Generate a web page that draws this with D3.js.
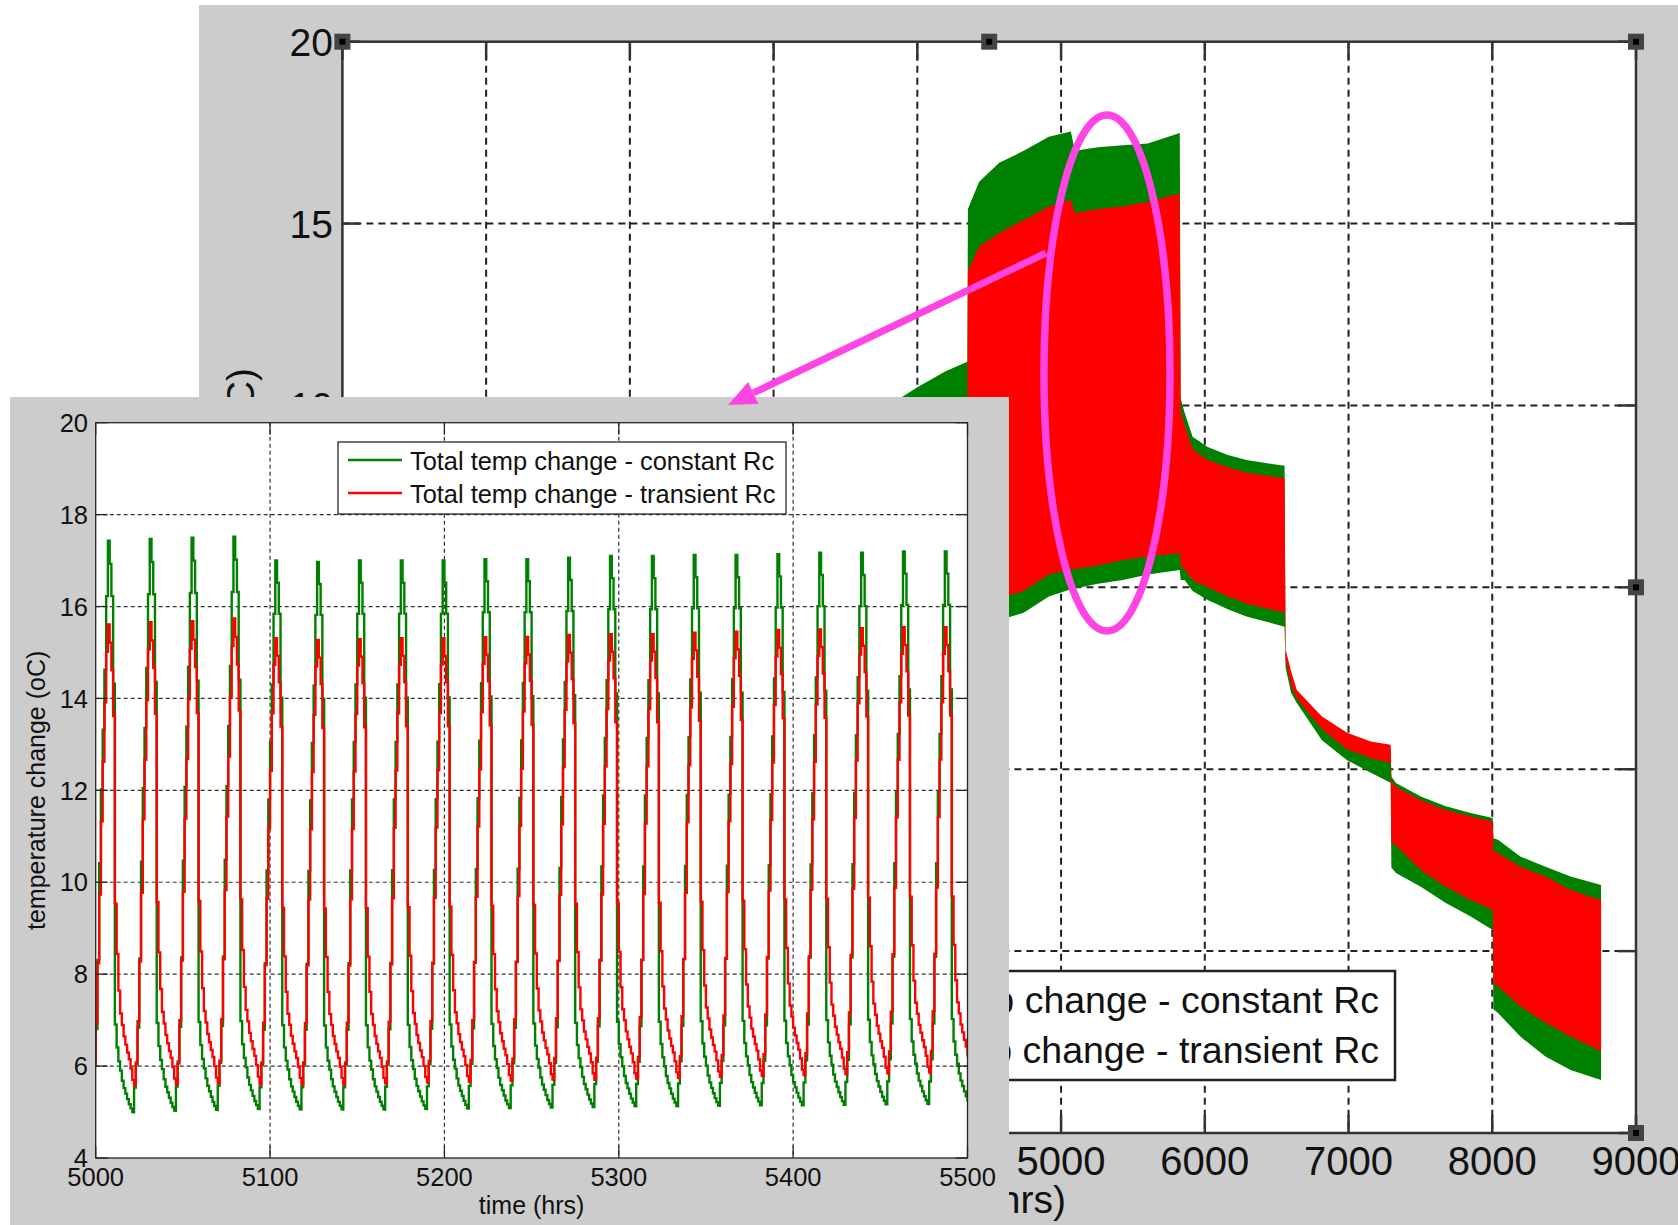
<!DOCTYPE html>
<html lang="en">
  <head>
    <meta charset="utf-8">
    <script src="https://d3js.org/d3.v7.min.js"></script>
    <title>Total temp change - constant vs transient Rc</title>
    <style>
      body { margin: 0; background: #fff; }
      svg { display: block; font-family: "Liberation Sans", Arial, Helvetica, sans-serif; }
    </style>
  </head>
  <body>
    <script>

      // ---- background chart (whole year), band envelopes
      var bigHours = [3800, 4000, 4200, 4348,
                      4352, 4430, 4570, 4740, 4915, 5068, 5096, 5256, 5430, 5603, 5826,
                      5832, 5860, 5915, 6020, 6160, 6290, 6555,
                      6562, 6600, 6640, 6815, 6990, 7155, 7293,
                      7298, 7330, 7503, 7677, 7850, 8003,
                      8008, 8040, 8195, 8370, 8545, 8757];
      var greenHi = [10.0, 10.5, 10.95, 11.2,
                     15.4, 16.15, 16.67, 17.0, 17.39, 17.53, 17.0, 17.1, 17.15, 17.2, 17.49,
                     10.2, 9.8, 9.14, 8.86, 8.64, 8.5, 8.34,
                     3.2, 2.6, 2.1, 1.38, 0.92, 0.68, 0.6,
                     -0.2, -0.38, -0.75, -1.02, -1.2, -1.34,
                     -1.9, -1.94, -2.4, -2.68, -2.95, -3.18];
      var greenLo = [3.5, 3.6, 3.7, 3.8,
                     3.8, 3.9, 4.1, 4.3, 4.75, 4.95, 4.97, 5.1, 5.2, 5.35, 5.48,
                     5.2, 5.2, 4.9, 4.65, 4.4, 4.2, 3.92,
                     2.8, 2.1, 1.82, 0.8, 0.25, -0.1, -0.37,
                     -2.7, -2.85, -3.23, -3.68, -4.05, -4.42,
                     -6.6, -6.7, -7.35, -7.9, -8.27, -8.54];
      var redHi   = [9.0, 9.4, 9.8, 10.0,
                     13.7, 14.37, 14.74, 15.1, 15.47, 15.65, 15.29, 15.4, 15.47, 15.6, 15.83,
                     9.85, 9.45, 8.8, 8.5, 8.3, 8.15, 8.0,
                     3.3, 2.7, 2.18, 1.45, 1.0, 0.76, 0.67,
                     -0.3, -0.48, -0.85, -1.12, -1.3, -1.44,
                     -2.25, -2.3, -2.68, -2.95, -3.32, -3.6];
      var redLo   = [4.0, 4.1, 4.2, 4.3,
                     4.3, 4.45, 4.7, 4.9, 5.35, 5.5, 5.5, 5.6, 5.75, 5.85, 5.94,
                     5.6, 5.5, 5.2, 5.0, 4.75, 4.55, 4.3,
                     3.0, 2.3, 1.95, 1.1, 0.55, 0.3, 0.17,
                     -2.0, -2.1, -2.77, -3.23, -3.6, -3.87,
                     -5.9, -5.97, -6.52, -6.97, -7.35, -7.76];
      var bigXTicks = [0, 1000, 2000, 3000, 4000, 5000, 6000, 7000, 8000, 9000];
      var bigYTicks = [-10, -5, 0, 5, 10, 15, 20];
      // only these tick labels are not covered by the inset
      var bigXLabels = [5000, 6000, 7000, 8000, 9000];
      var bigYLabels = [10, 15, 20];

      // ---- inset (5000-5500 hrs): daily cycles
      var insetPeakHours = [5007, 5031, 5055, 5079, 5103, 5127, 5151, 5175, 5199, 5223, 5247,
                            5271, 5295, 5319, 5343, 5367, 5391, 5415, 5439, 5463, 5487];
      var greenPeaks   = [17.43, 17.47, 17.5, 17.52, 17.0, 16.97, 17.0, 17.0, 17.0, 17.03, 17.03,
                          17.06, 17.1, 17.1, 17.12, 17.12, 17.14, 17.17, 17.17, 17.2, 17.2];
      var greenTroughs = [4.97, 5.0, 5.02, 5.04, 5.03, 5.03, 5.03, 5.04, 5.05, 5.06, 5.07,
                          5.08, 5.1, 5.1, 5.11, 5.12, 5.12, 5.13, 5.14, 5.15, 5.15];
      var redPeaks     = [15.61, 15.66, 15.68, 15.74, 15.31, 15.27, 15.29, 15.31, 15.31, 15.33, 15.34,
                          15.38, 15.4, 15.4, 15.43, 15.45, 15.49, 15.5, 15.53, 15.55, 15.55];
      var redTroughs   = [5.55, 5.58, 5.6, 5.62, 5.6, 5.6, 5.6, 5.62, 5.64, 5.66, 5.68,
                          5.7, 5.7, 5.72, 5.74, 5.76, 5.78, 5.8, 5.82, 5.84, 5.85];
      // one day, hours relative to the peak (first day, read hour by hour)
      var dayOffsets   = [-9, -8, -7, -6, -5, -4, -3, -2, -1, 0, 1, 2, 3,
                          4, 5, 6, 7, 8, 9, 10, 11, 12, 13, 14, 15];
      var greenDay     = [5.5, 6.0, 6.8, 8.3, 10.4, 12.0, 13.3, 14.6, 16.2, 17.4, 16.9, 16.2, 14.3,
                          6.9, 6.4, 6.1, 5.9, 5.68, 5.52, 5.4, 5.28, 5.17, 5.08, 5.0, 4.97];
      var redDay       = [5.5, 6.0, 6.9, 8.2, 9.7, 11.3, 12.6, 13.9, 15.0, 15.6, 15.2, 14.6, 13.6,
                          9.5, 8.4, 7.6, 7.1, 6.85, 6.6, 6.42, 6.25, 6.1, 5.9, 5.65, 5.5];
      var insetXTicks = [5000, 5100, 5200, 5300, 5400, 5500];
      var insetYTicks = [4, 6, 8, 10, 12, 14, 16, 18, 20];

      var legendLabels = ["Total temp change - constant Rc", "Total temp change - transient Rc"];
      var seriesColors = ["#008000", "#ff0000"];
      var axisLabelX = "time (hrs)";
      var axisLabelY = "temperature change (oC)";

      var svg = d3.select("body").append("svg")
        .attr("width", 1678)
        .attr("height", 1225);

      svg.append("rect").attr("width", 1678).attr("height", 1225).attr("fill", "#fff");

      // =================== background chart ===================
      var big = { left: 342.4, right: 1636, top: 41.7, bottom: 1133 };
      var xBig = d3.scaleLinear().domain([0, 9000]).range([big.left, big.right]);
      var yBig = d3.scaleLinear().domain([-10, 20]).range([big.bottom, big.top]);

      svg.append("rect").attr("x", 199).attr("y", 5).attr("width", 1479).attr("height", 1220)
        .attr("fill", "#cccccc");
      svg.append("rect").attr("x", big.left).attr("y", big.top)
        .attr("width", big.right - big.left).attr("height", big.bottom - big.top)
        .attr("fill", "#fff");

      svg.append("clipPath").attr("id", "bigclip").append("rect")
        .attr("x", big.left).attr("y", big.top)
        .attr("width", big.right - big.left).attr("height", big.bottom - big.top);

      var bigGrid = svg.append("g").attr("stroke", "#222").attr("stroke-width", 2)
        .attr("stroke-dasharray", "7,5");
      bigGrid.selectAll(".gx").data(bigXTicks.slice(1, -1)).enter().append("line")
        .attr("x1", function (d) { return xBig(d); }).attr("x2", function (d) { return xBig(d); })
        .attr("y1", big.top).attr("y2", big.bottom);
      bigGrid.selectAll(".gy").data(bigYTicks.slice(1, -1)).enter().append("line")
        .attr("y1", function (d) { return yBig(d); }).attr("y2", function (d) { return yBig(d); })
        .attr("x1", big.left).attr("x2", big.right);

      var bigRows = bigHours.map(function (h, i) {
        return { h: h, gHi: greenHi[i], gLo: greenLo[i], rHi: redHi[i], rLo: redLo[i] };
      });
      var bands = svg.append("g").attr("clip-path", "url(#bigclip)");
      bands.append("path").datum(bigRows).attr("fill", seriesColors[0])
        .attr("d", d3.area()
          .x(function (d) { return xBig(d.h); })
          .y0(function (d) { return yBig(d.gLo); })
          .y1(function (d) { return yBig(d.gHi); }));
      bands.append("path").datum(bigRows).attr("fill", seriesColors[1])
        .attr("d", d3.area()
          .x(function (d) { return xBig(d.h); })
          .y0(function (d) { return yBig(d.rLo); })
          .y1(function (d) { return yBig(d.rHi); }));

      // axes box and inner ticks
      var bigAxes = svg.append("g").attr("stroke", "#333").attr("stroke-width", 2.5).attr("fill", "none");
      bigAxes.append("rect").attr("x", big.left).attr("y", big.top)
        .attr("width", big.right - big.left).attr("height", big.bottom - big.top);
      bigXTicks.forEach(function (d) {
        bigAxes.append("line").attr("x1", xBig(d)).attr("x2", xBig(d)).attr("y1", big.bottom).attr("y2", big.bottom - 18);
        bigAxes.append("line").attr("x1", xBig(d)).attr("x2", xBig(d)).attr("y1", big.top).attr("y2", big.top + 18);
      });
      bigYTicks.forEach(function (d) {
        bigAxes.append("line").attr("y1", yBig(d)).attr("y2", yBig(d)).attr("x1", big.left).attr("x2", big.left + 18);
        bigAxes.append("line").attr("y1", yBig(d)).attr("y2", yBig(d)).attr("x1", big.right).attr("x2", big.right - 18);
      });

      svg.append("g").selectAll("text").data(bigXLabels).enter().append("text")
        .attr("x", function (d) { return xBig(d); }).attr("y", 1175)
        .attr("text-anchor", "middle").attr("font-size", 40).attr("fill", "#111")
        .text(function (d) { return d; });
      svg.append("g").selectAll("text").data(bigYLabels).enter().append("text")
        .attr("x", 333).attr("y", function (d) { return yBig(d); }).attr("dy", "0.36em")
        .attr("text-anchor", "end").attr("font-size", 39).attr("fill", "#111")
        .text(function (d) { return d; });
      svg.append("text").attr("x", 1066).attr("y", 1213).attr("text-anchor", "end")
        .attr("font-size", 39).attr("fill", "#111").text(axisLabelX);
      svg.append("text").attr("transform", "translate(254,368) rotate(-90)")
        .attr("text-anchor", "end").attr("font-size", 39).attr("fill", "#111").text(axisLabelY);

      // legend of the background chart (left part sits under the inset)
      var bigLeg = svg.append("g");
      bigLeg.append("rect").attr("x", 760).attr("y", 971).attr("width", 635).attr("height", 109)
        .attr("fill", "#fff").attr("stroke", "#222").attr("stroke-width", 2.5);
      legendLabels.forEach(function (lab, i) {
        var yy = 1000 + i * 50;
        bigLeg.append("line").attr("x1", 775).attr("x2", 835).attr("y1", yy).attr("y2", yy)
          .attr("stroke", seriesColors[i]).attr("stroke-width", 3);
        bigLeg.append("text").attr("x", 1379).attr("y", yy + 13).attr("text-anchor", "end")
          .attr("font-size", 37.5).attr("fill", "#111").text(lab);
      });

      // selection handles on the axes
      var midX = (big.left + big.right) / 2, midY = (big.top + big.bottom) / 2;
      var handles = [[big.left, big.top], [midX, big.top], [big.right, big.top], [big.right, midY],
                     [big.right, big.bottom], [midX, big.bottom], [big.left, big.bottom], [big.left, midY]];
      var hg = svg.append("g");
      hg.selectAll(".h1").data(handles).enter().append("rect")
        .attr("x", function (d) { return d[0] - 8; }).attr("y", function (d) { return d[1] - 8; })
        .attr("width", 16).attr("height", 16).attr("fill", "#444");
      hg.selectAll(".h2").data(handles).enter().append("rect")
        .attr("x", function (d) { return d[0] - 3; }).attr("y", function (d) { return d[1] - 3; })
        .attr("width", 6).attr("height", 6).attr("fill", "#000");

      // magenta highlight ellipse
      svg.append("ellipse").attr("cx", 1107).attr("cy", 373).attr("rx", 63).attr("ry", 258)
        .attr("fill", "none").attr("stroke", "#ff44e4").attr("stroke-width", 7.5);

      // =================== inset ===================
      var ins = { left: 95.7, right: 967.5, top: 422.7, bottom: 1158 };
      var xIn = d3.scaleLinear().domain([5000, 5500]).range([ins.left, ins.right]);
      var yIn = d3.scaleLinear().domain([4, 20]).range([ins.bottom, ins.top]);

      svg.append("rect").attr("x", 10).attr("y", 397).attr("width", 999).attr("height", 828)
        .attr("fill", "#cccccc");
      svg.append("rect").attr("x", ins.left).attr("y", ins.top)
        .attr("width", ins.right - ins.left).attr("height", ins.bottom - ins.top)
        .attr("fill", "#fff");
      svg.append("clipPath").attr("id", "insclip").append("rect")
        .attr("x", ins.left).attr("y", ins.top)
        .attr("width", ins.right - ins.left).attr("height", ins.bottom - ins.top);

      var inGrid = svg.append("g").attr("stroke", "#333").attr("stroke-width", 1.2)
        .attr("stroke-dasharray", "4,3");
      inGrid.selectAll(".gx").data(insetXTicks.slice(1, -1)).enter().append("line")
        .attr("x1", function (d) { return xIn(d); }).attr("x2", function (d) { return xIn(d); })
        .attr("y1", ins.top).attr("y2", ins.bottom);
      inGrid.selectAll(".gy").data(insetYTicks.slice(1, -1)).enter().append("line")
        .attr("y1", function (d) { return yIn(d); }).attr("y2", function (d) { return yIn(d); })
        .attr("x1", ins.left).attr("x2", ins.right);

      // each day = the read daily shape, scaled to that day's peak and trough
      function daySeries(shape, peaks, troughs) {
        var lo = d3.min(shape), hi = d3.max(shape);
        var pts = [];
        insetPeakHours.forEach(function (tp, k) {
          dayOffsets.forEach(function (off, i) {
            var f = (shape[i] - lo) / (hi - lo);
            pts.push({ t: tp + off, v: troughs[k] + f * (peaks[k] - troughs[k]) });
          });
        });
        return pts;
      }
      var insetSeries = [daySeries(greenDay, greenPeaks, greenTroughs),
                         daySeries(redDay, redPeaks, redTroughs)];
      var stepLine = d3.line().curve(d3.curveStepAfter)
        .x(function (d) { return xIn(d.t); })
        .y(function (d) { return yIn(d.v); });
      svg.append("g").attr("clip-path", "url(#insclip)")
        .selectAll("path").data(insetSeries).enter().append("path")
        .attr("fill", "none").attr("stroke-width", 2.4)
        .attr("stroke", function (d, i) { return seriesColors[i]; })
        .attr("d", stepLine);

      var inAxes = svg.append("g").attr("stroke", "#262626").attr("stroke-width", 1.3).attr("fill", "none");
      inAxes.append("rect").attr("x", ins.left).attr("y", ins.top)
        .attr("width", ins.right - ins.left).attr("height", ins.bottom - ins.top);
      insetXTicks.forEach(function (d) {
        inAxes.append("line").attr("x1", xIn(d)).attr("x2", xIn(d)).attr("y1", ins.bottom).attr("y2", ins.bottom - 12);
        inAxes.append("line").attr("x1", xIn(d)).attr("x2", xIn(d)).attr("y1", ins.top).attr("y2", ins.top + 12);
      });
      insetYTicks.forEach(function (d) {
        inAxes.append("line").attr("y1", yIn(d)).attr("y2", yIn(d)).attr("x1", ins.left).attr("x2", ins.left + 12);
        inAxes.append("line").attr("y1", yIn(d)).attr("y2", yIn(d)).attr("x1", ins.right).attr("x2", ins.right - 12);
      });

      svg.append("g").selectAll("text").data(insetXTicks).enter().append("text")
        .attr("x", function (d) { return xIn(d); }).attr("y", 1186)
        .attr("text-anchor", "middle").attr("font-size", 25.5).attr("fill", "#111")
        .text(function (d) { return d; });
      svg.append("g").selectAll("text").data(insetYTicks).enter().append("text")
        .attr("x", 88).attr("y", function (d) { return yIn(d); }).attr("dy", "0.36em")
        .attr("text-anchor", "end").attr("font-size", 25.5).attr("fill", "#111")
        .text(function (d) { return d; });
      svg.append("text").attr("x", (ins.left + ins.right) / 2).attr("y", 1214)
        .attr("text-anchor", "middle").attr("font-size", 25).attr("fill", "#111").text(axisLabelX);
      svg.append("text").attr("transform", "translate(45," + ((ins.top + ins.bottom) / 2) + ") rotate(-90)")
        .attr("text-anchor", "middle").attr("font-size", 25).attr("fill", "#111").text(axisLabelY);

      var inLeg = svg.append("g");
      inLeg.append("rect").attr("x", 338).attr("y", 442).attr("width", 448).attr("height", 72)
        .attr("fill", "#fff").attr("stroke", "#262626").attr("stroke-width", 1.3);
      legendLabels.forEach(function (lab, i) {
        var yy = 460 + i * 33;
        inLeg.append("line").attr("x1", 348).attr("x2", 402).attr("y1", yy).attr("y2", yy)
          .attr("stroke", seriesColors[i]).attr("stroke-width", 2.4);
        inLeg.append("text").attr("x", 410).attr("y", yy + 10).attr("font-size", 25.4)
          .attr("fill", "#111").text(lab);
      });

      // arrow from the highlighted region down to the inset
      var tail = [1046, 253], tip = [728, 405];
      var dx = tip[0] - tail[0], dy = tip[1] - tail[1], len = Math.sqrt(dx * dx + dy * dy);
      var ux = dx / len, uy = dy / len, headLen = 28, headW = 12;
      var base = [tip[0] - headLen * ux, tip[1] - headLen * uy];
      svg.append("line").attr("x1", tail[0]).attr("y1", tail[1]).attr("x2", base[0]).attr("y2", base[1])
        .attr("stroke", "#ff44e4").attr("stroke-width", 7);
      svg.append("polygon").attr("fill", "#ff44e4")
        .attr("points", [tip, [base[0] - headW * uy, base[1] + headW * ux],
                         [base[0] + headW * uy, base[1] - headW * ux]].map(function (p) { return p.join(","); }).join(" "));

    </script>
  </body>
</html>
